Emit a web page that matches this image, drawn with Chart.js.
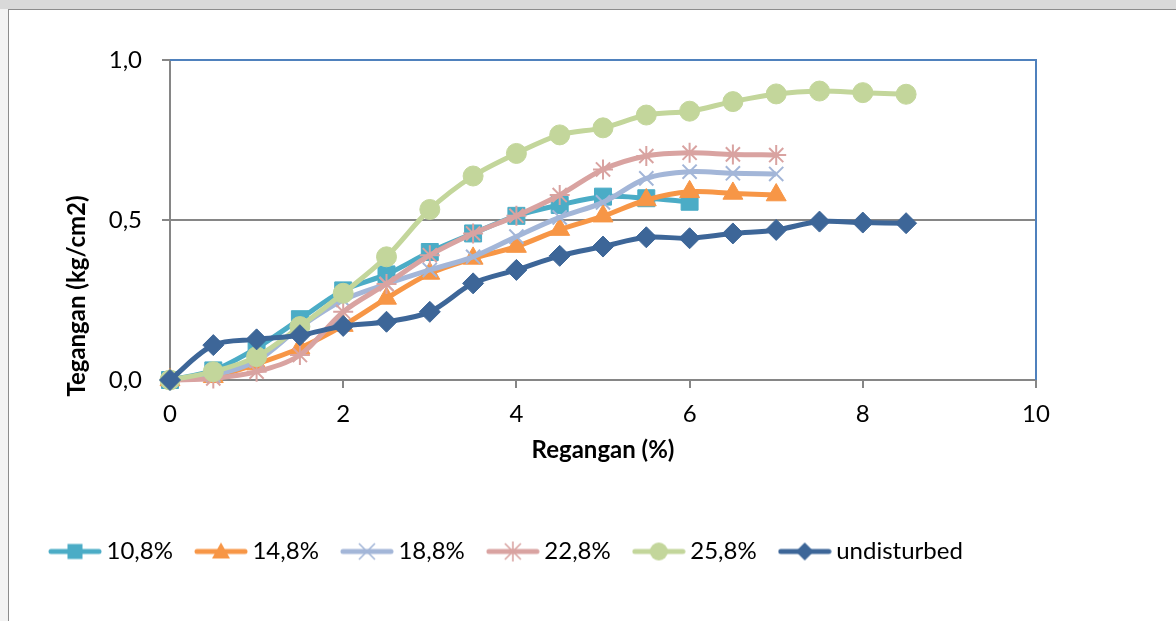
<!DOCTYPE html>
<html>
<head>
<meta charset="utf-8">
<script src="https://cdn.jsdelivr.net/npm/chart.js@4/dist/chart.umd.min.js"></script>
<style>
  html, body { margin: 0; padding: 0; width: 1176px; height: 621px; overflow: hidden; background: #ffffff; }
  #band { position: absolute; left: 0; top: 0; width: 1176px; height: 9px; background: #d9d9d9; }
  #side { position: absolute; left: 0; top: 9px; width: 8px; height: 612px; background: #f3f3f3; }
  #frame { position: absolute; left: 8px; top: 9px; width: 1180px; height: 630px; background: #ffffff;
           border-left: 1px solid #8c8c8c; border-top: 1px solid #8c8c8c; }
  #wrap { position: absolute; left: 0; top: 0; width: 1176px; height: 621px; }
</style>
</head>
<body>
<div id="band"></div>
<div id="side"></div>
<div id="frame"></div>
<div id="wrap"><canvas id="chart" width="1176" height="621"></canvas></div>
<script>
// Strain (%) readings shared by all series
const strainPct = [0, 0.5, 1, 1.5, 2, 2.5, 3, 3.5, 4, 4.5, 5, 5.5, 6, 6.5, 7, 7.5, 8, 8.5];

// Stress (kg/cm2) per moisture content
const stress108 = [0, 0.03, 0.10, 0.19, 0.28, 0.33, 0.40, 0.458, 0.513, 0.547, 0.573, 0.568, 0.557];
const stress148 = [0, 0.01, 0.05, 0.10, 0.17, 0.255, 0.333, 0.38, 0.417, 0.47, 0.512, 0.5625, 0.588, 0.583, 0.578];
const stress188 = [0, 0.015, 0.06, 0.165, 0.25, 0.30, 0.344, 0.385, 0.448, 0.508, 0.555, 0.63, 0.651, 0.646, 0.644];
const stress228 = [0, 0.005, 0.026, 0.078, 0.213, 0.30, 0.39, 0.458, 0.513, 0.578, 0.658, 0.70, 0.71, 0.705, 0.703];
const stress258 = [0, 0.026, 0.073, 0.167, 0.271, 0.385, 0.533, 0.6375, 0.708, 0.766, 0.788, 0.828, 0.84, 0.87, 0.894, 0.903, 0.898, 0.893];
const stressUndisturbed = [0, 0.109, 0.127, 0.14, 0.169, 0.182, 0.213, 0.302, 0.344, 0.388, 0.417, 0.446, 0.443, 0.458, 0.469, 0.495, 0.492, 0.49];

const seriesNames = ['10,8%', '14,8%', '18,8%', '22,8%', '25,8%', 'undisturbed'];
const xTicks = [0, 2, 4, 6, 8, 10];
const yTicks = [0, 0.5, 1.0];
const xTitle = 'Regangan (%)';
const yTitle = 'Tegangan (kg/cm2)';

const seriesValues = [stress108, stress148, stress188, stress228, stress258, stressUndisturbed];
const colors = ['#4bacc6', '#f79646', '#a3b6d8', '#d9a3a1', '#c3d69b', '#3d6698'];
const markers = ['rect', 'triangle', 'crossRot', 'star', 'circle', 'rectRot'];
const markerRadius = [12, 11.5, 10, 10, 10, 10.5];
const markerBorder = [1, 1, 2, 2, 1, 1];
const stacking = [5, 4, 3, 2, 1, 0];

function toPoints(values) {
  return values.map((v, i) => ({ x: strainPct[i], y: v }));
}

// Legend swatch: a short thick line with the series marker in the middle
function makeSwatch(idx) {
  const c = document.createElement('canvas');
  c.width = 54; c.height = 26;
  const g = c.getContext('2d');
  const col = colors[idx];
  const cx = 27, cy = 13;
  g.strokeStyle = col; g.fillStyle = col;
  g.lineCap = 'round';
  g.lineWidth = 5;
  g.beginPath(); g.moveTo(3, cy); g.lineTo(51, cy); g.stroke();
  g.beginPath();
  switch (markers[idx]) {
    case 'rect':
      g.fillRect(cx - 7.5, cy - 7.5, 15, 15); break;
    case 'triangle':
      g.moveTo(cx, cy - 9); g.lineTo(cx + 9, cy + 7); g.lineTo(cx - 9, cy + 7); g.closePath(); g.fill(); break;
    case 'crossRot':
      g.lineWidth = 1.6; g.lineCap = 'butt';
      g.moveTo(cx - 8, cy - 8); g.lineTo(cx + 8, cy + 8);
      g.moveTo(cx + 8, cy - 8); g.lineTo(cx - 8, cy + 8); g.stroke(); break;
    case 'star':
      g.lineWidth = 1.6; g.lineCap = 'butt';
      g.moveTo(cx - 8, cy - 8); g.lineTo(cx + 8, cy + 8);
      g.moveTo(cx + 8, cy - 8); g.lineTo(cx - 8, cy + 8);
      g.moveTo(cx, cy - 10); g.lineTo(cx, cy + 10); g.stroke(); break;
    case 'circle':
      g.arc(cx, cy, 9, 0, Math.PI * 2); g.fill(); break;
    case 'rectRot':
      g.moveTo(cx, cy - 9); g.lineTo(cx + 9, cy); g.lineTo(cx, cy + 9); g.lineTo(cx - 9, cy); g.closePath(); g.fill(); break;
  }
  return c;
}
const swatches = seriesNames.map((_, i) => makeSwatch(i));

const datasets = seriesNames.map((name, i) => ({
  label: name,
  data: toPoints(seriesValues[i]),
  borderColor: colors[i],
  backgroundColor: colors[i],
  pointBackgroundColor: colors[i],
  pointBorderColor: colors[i],
  pointStyle: markers[i],
  pointRadius: markerRadius[i],
  pointHoverRadius: markerRadius[i],
  pointBorderWidth: markerBorder[i],
  borderWidth: 5,
  tension: 0.33,
  fill: false,
  clip: false,
  order: stacking[i]
}));

// Blue outline on the top and right sides of the plot area
const plotOutline = {
  id: 'plotOutline',
  beforeDatasetsDraw(chart) {
    const { ctx, chartArea: a } = chart;
    ctx.save();
    ctx.strokeStyle = '#4f81bd';
    ctx.lineWidth = 2;
    ctx.beginPath();
    ctx.moveTo(a.left, a.top);
    ctx.lineTo(a.right, a.top);
    ctx.lineTo(a.right, a.bottom);
    ctx.stroke();
    ctx.restore();
  }
};

// Vertical axis title, placed a little below the middle of the axis
const yAxisTitle = {
  id: 'yAxisTitle',
  afterDraw(chart) {
    const { ctx } = chart;
    ctx.save();
    ctx.translate(77, 296);
    ctx.rotate(-Math.PI / 2);
    ctx.font = 'bold 24px Lato';
    ctx.fillStyle = '#000000';
    ctx.textAlign = 'center';
    ctx.textBaseline = 'middle';
    ctx.fillText(yTitle, 0, 0);
    ctx.restore();
  }
};

new Chart(document.getElementById('chart'), {
  type: 'line',
  data: { datasets },
  plugins: [plotOutline, yAxisTitle],
  options: {
    responsive: false,
    animation: false,
    events: [],
    layout: { padding: { left: 27, top: 60, right: 140, bottom: 47.5 } },
    scales: {
      x: {
        type: 'linear',
        min: 0, max: 10,
        afterBuildTicks(scale) { scale.ticks = xTicks.map(v => ({ value: v })); },
        afterFit(scale) { scale.height = 131; },
        ticks: {
          color: '#000000',
          font: { family: 'Lato', size: 24 },
          padding: 12,
          callback: v => String(v)
        },
        grid: { drawOnChartArea: false, tickLength: 8, color: '#868686', lineWidth: 2 },
        border: { display: true, color: '#868686', width: 2 },
        title: {
          display: true, text: xTitle, color: '#000000',
          font: { family: 'Lato', size: 24, weight: 'bold' },
          padding: { top: 0, bottom: 46 }
        }
      },
      y: {
        type: 'linear',
        min: 0, max: 1,
        afterBuildTicks(scale) { scale.ticks = yTicks.map(v => ({ value: v })); },
        afterFit(scale) { scale.width = 143; },
        ticks: {
          color: '#000000',
          font: { family: 'Lato', size: 24 },
          padding: 20,
          callback: v => Number(v).toFixed(1).replace('.', ',')
        },
        grid: { drawOnChartArea: true, tickLength: 8, color: '#868686', lineWidth: 2 },
        border: { display: true, color: '#868686', width: 2 }
      }
    },
    plugins: {
      tooltip: { enabled: false },
      legend: {
        position: 'bottom',
        align: 'start',
        labels: {
          usePointStyle: true,
          pointStyleWidth: 39,
          padding: 28.5,
          color: '#000000',
          font: { family: 'Lato', size: 24 },
          generateLabels(chart) {
            return chart.data.datasets.map((ds, i) => ({
              text: ds.label,
              pointStyle: swatches[i],
              fillStyle: colors[i],
              strokeStyle: colors[i],
              lineWidth: 0,
              hidden: false,
              fontColor: '#000000',
              datasetIndex: i
            }));
          }
        }
      }
    }
  }
});
</script>
</body>
</html>
